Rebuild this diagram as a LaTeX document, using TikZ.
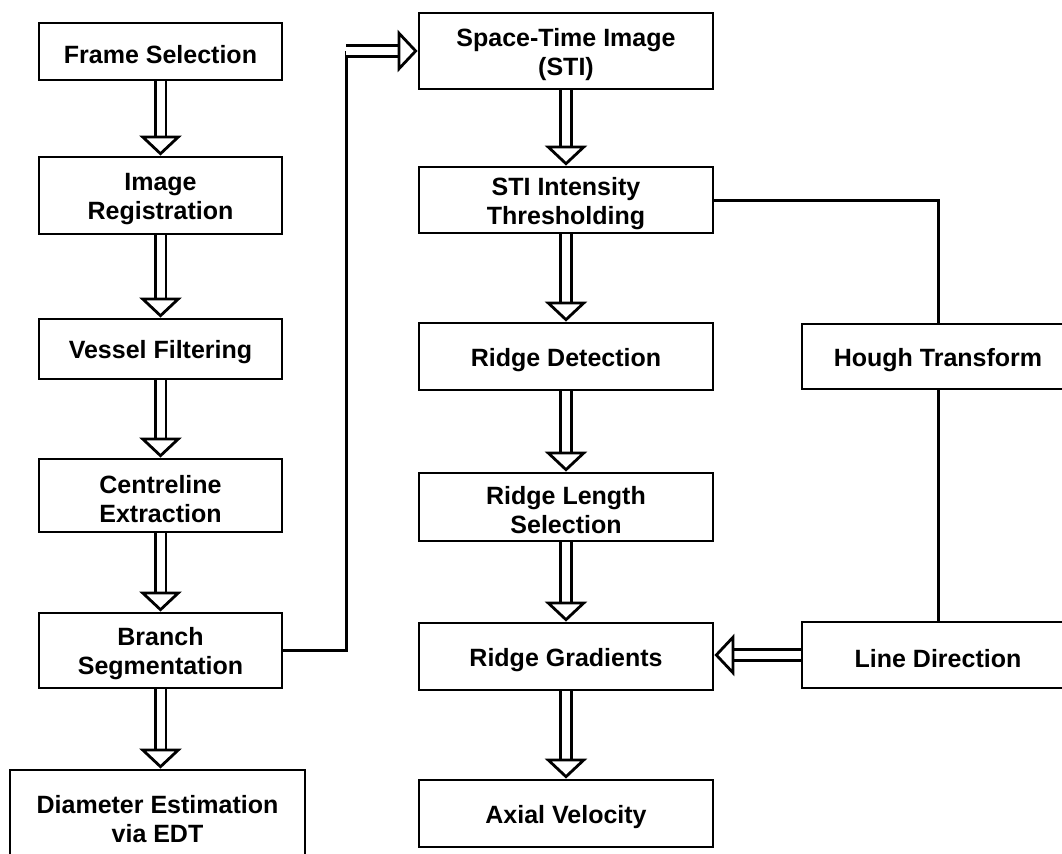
\documentclass[tikz,border=0pt]{standalone}
\usepackage{fontspec}
\setsansfont{Liberation Sans}
\usetikzlibrary{arrows.meta}

\begin{document}
\begin{tikzpicture}[x=0.5pt, y=-0.5pt,
	box/.style={shape=rectangle, draw=black, line width=1.4pt, align=center,
		font=\sffamily\bfseries\fontsize{12.5}{14.5}\selectfont,
		execute at begin node={\rule{0pt}{12.5pt}}},
	twolines/.style={inner ysep=1pt, execute at begin node={\rule{0pt}{27pt}}},
	lcol/.style={box, minimum width=121.5pt},
	mcol/.style={box, minimum width=147pt},
	rcol/.style={box, minimum width=136pt},
	link/.style={draw=black, line width=1.5pt},
	hollow/.style={draw=black, line width=1.4pt, double, double distance=4pt,
		-{Triangle[open, fill=white, length=10pt, width=21pt, line width=1.4pt]}}]
	
	\clip (0, 0) rectangle (1062, 853);
	
	\node[lcol, minimum height=28.5pt] (fs) at (160.5, 51.5)  {Frame Selection};
	\node[lcol, twolines, minimum height=38.5pt] (ir) at (160.5, 195.5) {Image\\Registration};
	\node[lcol, minimum height=30pt]   (vf) at (160.5, 349)   {Vessel Filtering};
	\node[lcol, twolines, minimum height=36.5pt] (ce) at (160.5, 495.5) {Centreline\\Extraction};
	\node[lcol, twolines, minimum height=37.5pt] (bs) at (160.5, 650.5) {Branch\\Segmentation};
	\node[box, twolines, minimum width=147.5pt, minimum height=46pt] (de) at (157.5, 816) {Diameter Estimation\\via EDT};
	
	\node[mcol, twolines, minimum height=38pt]   (sti) at (566, 51)    {Space-Time Image\\(STI)};
	\node[mcol, twolines, minimum height=33pt]   (thr) at (566, 200)   {STI Intensity\\Thresholding};
	\node[mcol, minimum height=33.5pt] (rd)  at (566, 356.5) {Ridge Detection};
	\node[mcol, twolines, minimum height=34pt]   (rl)  at (566, 507)   {Ridge Length\\Selection};
	\node[mcol, minimum height=33.5pt] (rg)  at (566, 656.5) {Ridge Gradients};
	\node[mcol, minimum height=33.5pt] (av)  at (566, 813.5) {Axial Velocity};
	
	\node[rcol, minimum height=32.5pt] (ht) at (938, 356.5) {Hough Transform};
	\node[rcol, minimum height=33pt]   (ld) at (938, 655)   {Line Direction};
	
	\coordinate (jn) at (346, 51);
	
	\path[hollow] (fs) -- (ir);
	\path[hollow] (ir) -- (vf);
	\path[hollow] (vf) -- (ce);
	\path[hollow] (ce) -- (bs);
	\path[hollow] (bs.south) -- (bs.south |- de.north);
	
	\path[link] (bs.east) -| (jn);
	\path[hollow] (jn) -- (sti.west);
	
	\path[hollow] (sti) -- (thr);
	\path[hollow] (thr) -- (rd);
	\path[hollow] (rd) -- (rl);
	\path[hollow] (rl) -- (rg);
	\path[hollow] (rg) -- (av);
	
	\path[link] (thr.east) -| (ht.north);
	\path[link] (ht) -- (ld);
	\path[hollow] (ld.west) -- (ld.west -| rg.east);
	
\end{tikzpicture}
\end{document}
